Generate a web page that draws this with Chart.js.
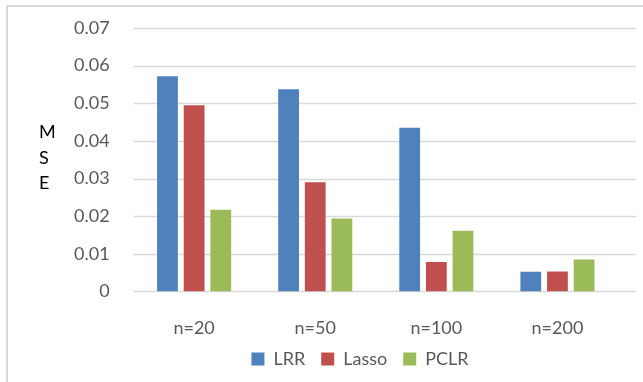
<!DOCTYPE html>
<html>
<head>
<meta charset="utf-8">
<script src="https://cdn.jsdelivr.net/npm/chart.js@4"></script>
<style>
  html, body { margin: 0; padding: 0; background: #fff; overflow: hidden; }
  #wrap { position: relative; width: 643px; height: 382px; }
  #frame { position: absolute; left: 6px; top: 5px; width: 700px; height: 420px; border: 2px solid #d9d9d9; box-sizing: border-box; }
  canvas { position: absolute; left: 0; top: 0; }
</style>
</head>
<body>
<div id="wrap">
  <div id="frame"></div>
  <canvas id="chart" width="643" height="382"></canvas>
</div>
<script>
const categories = ['n=20', 'n=50', 'n=100', 'n=200'];
const lrr = [0.0572, 0.0537, 0.0435, 0.0052];
const lasso = [0.0495, 0.0290, 0.0078, 0.0053];
const pclr = [0.0217, 0.0194, 0.0161, 0.0085];
const yTicks = [0, 0.01, 0.02, 0.03, 0.04, 0.05, 0.06, 0.07];
const axisTitle = ['M', 'S', 'E'];

const font = { family: 'Lato', size: 18 };

// horizontal grid lines run a bit past the last category, like the original
const gridPlugin = {
  id: 'longGrid',
  afterLayout(chart) {
    // nudge the legend to where the original has it
    const lg = chart.legend;
    lg.left += 26; lg.right += 26;
    lg.top += 1; lg.bottom += 1;
    // x labels sit lower than the shrunk axis box, don't clip them
    chart.scales.x.bottom += 40;
  },
  beforeDatasetsDraw(chart) {
    const ctx = chart.ctx;
    const y = chart.scales.y;
    ctx.save();
    ctx.strokeStyle = '#d9d9d9';
    ctx.lineWidth = 1.6;
    yTicks.forEach(function(v) {
      const py = Math.round(y.getPixelForValue(v)) + 0.5;
      ctx.beginPath();
      ctx.moveTo(chart.chartArea.left, py);
      ctx.lineTo(636, py);
      ctx.stroke();
    });
    ctx.restore();
  },
  afterDraw(chart) {
    // stacked "MSE" axis title
    const ctx = chart.ctx;
    ctx.save();
    ctx.fillStyle = '#000';
    ctx.font = '18px Lato';
    ctx.textBaseline = 'middle';
    ctx.textAlign = 'left';
    axisTitle.forEach(function(ch, i) {
      ctx.fillText(ch, 39, 132 + i * 25.8);
    });
    ctx.restore();
  }
};

const ctx = document.getElementById('chart').getContext('2d');
new Chart(ctx, {
  type: 'bar',
  data: {
    labels: categories,
    datasets: [
      { label: 'LRR', data: lrr, backgroundColor: '#4f81bd' },
      { label: 'Lasso', data: lasso, backgroundColor: '#c0504d' },
      { label: 'PCLR', data: pclr, backgroundColor: '#9bbb59' }
    ]
  },
  options: {
    responsive: false,
    animation: false,
    categoryPercentage: 0.66,
    barPercentage: 0.78,
    layout: { padding: { left: 50, right: 25, top: 28, bottom: 5 } },
    plugins: {
      tooltip: { enabled: false },
      legend: {
        position: 'bottom',
        labels: {
          font: font,
          color: '#595959',
          boxWidth: 13,
          boxHeight: 13,
          padding: 16
        }
      }
    },
    scales: {
      x: {
        grid: { display: false, drawTicks: false },
        border: { display: false },
        ticks: { font: font, color: '#595959', padding: 26 },
        afterFit(scale) { scale.height -= 32; }
      },
      y: {
        min: 0,
        max: 0.07,
        afterBuildTicks(scale) {
          scale.ticks = yTicks.map(function(v) { return { value: v }; });
        },
        afterFit(scale) { scale.paddingTop = 0; scale.paddingBottom = 0; },
        grid: { display: false, drawTicks: false },
        border: { display: false },
        ticks: {
          font: font,
          color: '#595959',
          padding: 24,
          callback: function(v) { return v === 0 ? '0' : v.toFixed(2); }
        }
      }
    }
  },
  plugins: [gridPlugin]
});
</script>
</body>
</html>
